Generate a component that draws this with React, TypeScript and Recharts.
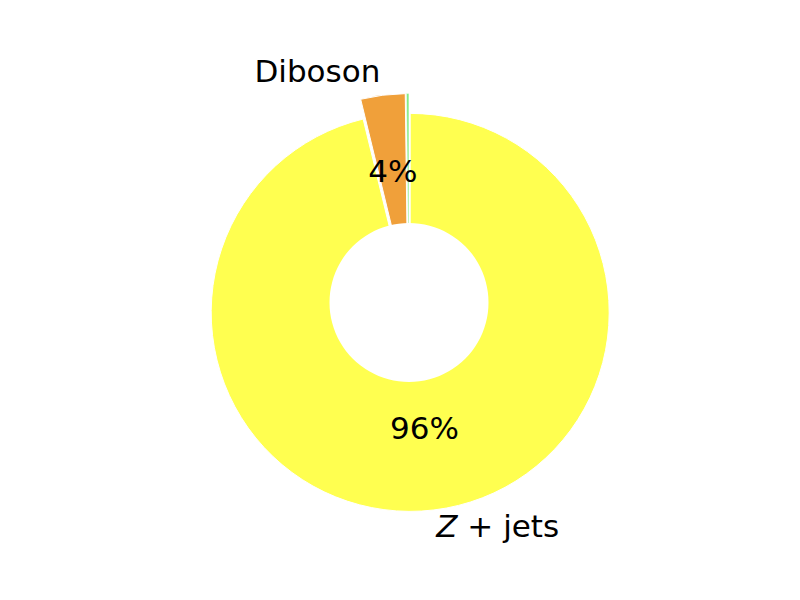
import React from "react";
import { PieChart, Pie, Cell, Sector } from "recharts";

const categories = ["Other", "Diboson", "Z + jets"];
const displayLabels = ["", "Diboson", "Z + jets"];
const values = [0.2, 3.6, 96.2];
const colors = ["#84ec84", "#f0a03a", "#ffff50"];
const explode = [0.05, 0.05, 0.05];
const holeData = [{ name: "hole", value: 1 }];

const data = categories.map((c, i) => ({ name: c, value: values[i], idx: i }));

const RAD = Math.PI / 180;
const FONT = "'DejaVu Sans', sans-serif";
const FS = 31;

const offsetFor = (idx: number, midAngle: number, outerRadius: number) => {
  const off = (explode[idx] || 0) * outerRadius;
  return {
    dx: off * Math.cos(-midAngle * RAD),
    dy: off * Math.sin(-midAngle * RAD),
  };
};

const renderShape = (props: any) => {
  const idx = props.payload?.idx ?? props.idx ?? 0;
  const { dx, dy } = offsetFor(idx, props.midAngle, props.outerRadius);
  return (
    <Sector
      cx={props.cx + dx}
      cy={props.cy + dy}
      innerRadius={0}
      outerRadius={props.outerRadius}
      startAngle={props.startAngle}
      endAngle={props.endAngle}
      fill={props.fill}
      stroke="#ffffff"
      strokeWidth={idx === 0 ? 0.5 : 1}
    />
  );
};

const renderLabel = (props: any) => {
  const idx = props.payload?.idx ?? props.idx ?? props.index ?? 0;
  const { cx, cy, midAngle, outerRadius, percent } = props;
  const { dx, dy } = offsetFor(idx, midAngle, outerRadius);
  const ccx = cx + dx;
  const ccy = cy + dy;
  const cos = Math.cos(-midAngle * RAD);
  const sin = Math.sin(-midAngle * RAD);
  const lx = ccx + 1.1 * outerRadius * cos;
  const ly = ccy + 1.1 * outerRadius * sin - 4;
  const px = ccx + 0.6 * outerRadius * cos;
  const py = ccy + 0.6 * outerRadius * sin - 3;
  const text = displayLabels[idx];
  const pct = percent * 100;
  return (
    <g>
      {text ? (
        <text
          x={lx}
          y={ly}
          textAnchor={cos < 0 ? "end" : "start"}
          dominantBaseline="central"
          fontFamily={FONT}
          fontSize={FS}
          fill="#000"
        >
          {text === "Z + jets" ? (
            <>
              <tspan fontStyle="italic">Z</tspan>
              <tspan>{" + jets"}</tspan>
            </>
          ) : (
            text
          )}
        </text>
      ) : null}
      {pct >= 1 ? (
        <text
          x={px}
          y={py}
          textAnchor="middle"
          dominantBaseline="central"
          fontFamily={FONT}
          fontSize={FS}
          fill="#000"
        >
          {`${Math.round(pct)}%`}
        </text>
      ) : null}
    </g>
  );
};

export default function App() {
  return (
    <div style={{ position: "absolute", left: 0, top: 0, width: 800, height: 600, background: "#fff" }}>
      <PieChart width={800} height={600} margin={{ top: 0, right: 0, bottom: 0, left: 0 }}>
        <Pie
          data={data}
          dataKey="value"
          nameKey="name"
          cx={409}
          cy={302.5}
          innerRadius={0}
          outerRadius={199}
          startAngle={90}
          endAngle={450}
          stroke="#ffffff"
          strokeWidth={1}
          shape={renderShape}
          label={renderLabel}
          labelLine={false}
          isAnimationActive={false}
        >
          {data.map((d, i) => (
            <Cell key={d.name} fill={colors[i]} />
          ))}
        </Pie>
        <Pie
          data={holeData}
          dataKey="value"
          cx={409}
          cy={302.5}
          innerRadius={0}
          outerRadius={79.5}
          startAngle={90}
          endAngle={450}
          fill="#ffffff"
          stroke="none"
          label={false}
          labelLine={false}
          isAnimationActive={false}
        />
      </PieChart>
    </div>
  );
}
